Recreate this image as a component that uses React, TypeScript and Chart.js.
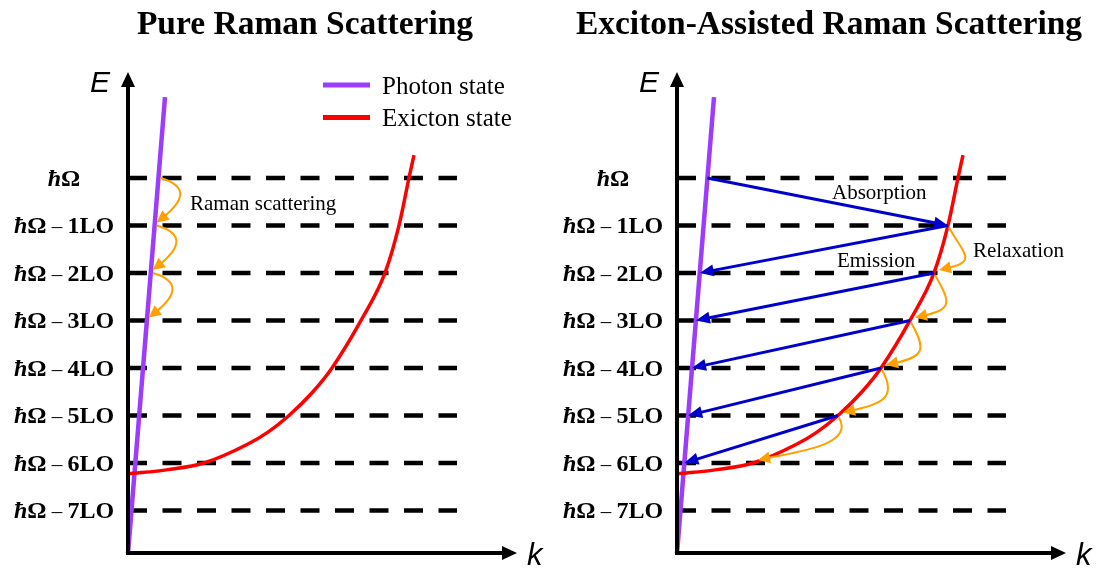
import React, { useEffect, useRef } from 'react';
import { Chart, registerables } from 'chart.js';

Chart.register(...registerables);

// ---------- data ----------
const levelValues = [7, 6, 5, 4, 3, 2, 1, 0];
const levelLabels = ['ħΩ', 'ħΩ – 1LO', 'ħΩ – 2LO', 'ħΩ – 3LO', 'ħΩ – 4LO', 'ħΩ – 5LO', 'ħΩ – 6LO', 'ħΩ – 7LO'];
const levelDashK = [0, 329];
const kRange = [0, 389];
const eRange = [-0.895, 9.23];
const photonK = [0, 37];
const photonE = [-0.9, 8.7];
const excitonK = [0, 40, 76, 120, 140, 161, 185, 204, 233, 257, 271, 281, 286];
const excitonE = [0.77, 0.86, 1, 1.4, 1.65, 2, 2.5, 3, 4, 5, 6, 7, 7.48];
const seriesNames = ['Photon state', 'Exicton state'];
const panelTitles = ['Pure Raman Scattering', 'Exciton-Assisted Raman Scattering'];
const ramanFrom = [7, 6, 5];
const absorption = [7, 6];
const emissionFrom = [6, 5, 4, 3, 2];
const relaxationFrom = [6, 5, 4, 3, 2];

const PURPLE = '#9B3CFF';
const RED = '#FF0000';
const BLUE = '#0000CC';
const ORANGE = '#FFA000';
const SERIF = '"Liberation Serif", "Times New Roman", serif';
const SANS = '"Liberation Sans", Arial, sans-serif';

const W = 551;
const H = 574;

function interp(xs: number[], ys: number[], yv: number): number {
  for (let i = 0; i < ys.length - 1; i++) {
    const a = ys[i], b = ys[i + 1];
    if ((yv >= a && yv <= b) || (yv <= a && yv >= b)) {
      const t = b === a ? 0 : (yv - a) / (b - a);
      return xs[i] + t * (xs[i + 1] - xs[i]);
    }
  }
  return xs[xs.length - 1];
}
const photonKAt = (e: number) => interp(photonK, photonE, e);
const excitonKAt = (e: number) => interp(excitonK, excitonE, e);

function arrowHead(ctx: CanvasRenderingContext2D, tx: number, ty: number, fx: number, fy: number, len: number, hw: number, color: string) {
  const dx = tx - fx, dy = ty - fy;
  const d = Math.hypot(dx, dy) || 1;
  const ux = dx / d, uy = dy / d;
  const bx = tx - ux * len, by = ty - uy * len;
  ctx.fillStyle = color;
  ctx.beginPath();
  ctx.moveTo(tx, ty);
  ctx.lineTo(bx - uy * hw, by + ux * hw);
  ctx.lineTo(bx + uy * hw, by - ux * hw);
  ctx.closePath();
  ctx.fill();
}

function straightArrow(ctx: CanvasRenderingContext2D, x0: number, y0: number, x1: number, y1: number, color: string, lw: number, len: number, hw: number) {
  const d = Math.hypot(x1 - x0, y1 - y0);
  const ux = (x1 - x0) / d, uy = (y1 - y0) / d;
  ctx.strokeStyle = color;
  ctx.lineWidth = lw;
  ctx.lineCap = 'butt';
  ctx.beginPath();
  ctx.moveTo(x0, y0);
  ctx.lineTo(x1 - ux * len * 0.7, y1 - uy * len * 0.7);
  ctx.stroke();
  arrowHead(ctx, x1, y1, x0, y0, len, hw, color);
}

function curvedArrow(ctx: CanvasRenderingContext2D, p0: number[], c1: number[], c2: number[], p3: number[], color: string) {
  const d = Math.hypot(p3[0] - c2[0], p3[1] - c2[1]);
  const ux = (p3[0] - c2[0]) / d, uy = (p3[1] - c2[1]) / d;
  const len = 12;
  ctx.strokeStyle = color;
  ctx.lineWidth = 2;
  ctx.beginPath();
  ctx.moveTo(p0[0], p0[1]);
  ctx.bezierCurveTo(c1[0], c1[1], c2[0], c2[1], p3[0] - ux * len * 0.6, p3[1] - uy * len * 0.6);
  ctx.stroke();
  arrowHead(ctx, p3[0], p3[1], c2[0], c2[1], len, 6, color);
}

function drawLevelLabel(ctx: CanvasRenderingContext2D, text: string, cx: number, baseY: number) {
  const parts: { t: string; f: string }[] = [];
  parts.push({ t: 'ħ', f: `italic bold 24px ${SERIF}` });
  parts.push({ t: 'Ω', f: `bold 24px ${SERIF}` });
  const rest = text.slice(2);
  if (rest.length) {
    const m = rest.match(/^(\s*–\s*)(.*)$/);
    if (m) {
      parts.push({ t: ' – ', f: `21px ${SERIF}` });
      parts.push({ t: m[2], f: `bold 24px ${SERIF}` });
    }
  }
  let total = 0;
  const widths = parts.map((p) => {
    ctx.font = p.f;
    const w = ctx.measureText(p.t).width;
    total += w;
    return w;
  });
  let x = cx - total / 2;
  ctx.fillStyle = '#000';
  ctx.textAlign = 'left';
  ctx.textBaseline = 'alphabetic';
  parts.forEach((p, i) => {
    ctx.font = p.f;
    ctx.fillText(p.t, x, baseY);
    x += widths[i];
  });
}

const diagramPlugin = {
  id: 'diagram',
  afterDatasetsDraw(chart: any, _args: any, opts: any) {
    const { ctx, chartArea: ca, scales } = chart;
    const px = (k: number) => scales.x.getPixelForValue(k);
    const py = (e: number) => scales.y.getPixelForValue(e);
    const panel = opts.panel as number;
    ctx.save();

    // axes
    ctx.strokeStyle = '#000';
    ctx.lineWidth = 4;
    ctx.lineJoin = 'miter';
    ctx.lineCap = 'butt';
    ctx.beginPath();
    ctx.moveTo(ca.left, ca.top + 12);
    ctx.lineTo(ca.left, ca.bottom);
    ctx.lineTo(ca.right - 12, ca.bottom);
    ctx.stroke();
    arrowHead(ctx, ca.left, ca.top, ca.left, ca.top + 20, 15, 7, '#000');
    arrowHead(ctx, ca.right, ca.bottom, ca.right - 20, ca.bottom, 15, 7, '#000');

    // axis labels
    ctx.fillStyle = '#000';
    ctx.textAlign = 'left';
    ctx.textBaseline = 'alphabetic';
    ctx.font = `italic 30px ${SANS}`;
    ctx.fillText('E', ca.left - 38, ca.top + 20);
    ctx.font = `italic 31px ${SANS}`;
    ctx.fillText('k', ca.right + 10, ca.bottom + 12);

    // level labels
    levelValues.forEach((v, i) => drawLevelLabel(ctx, levelLabels[i], ca.left - 64, py(v) + 8));

    // title
    ctx.font = `bold 33.5px ${SERIF}`;
    ctx.textAlign = 'center';
    ctx.fillStyle = '#000';
    ctx.fillText(panelTitles[panel], panel === 0 ? 305 : 280, 34);

    if (panel === 0) {
      // legend
      const ds = chart.data.datasets.filter((d: any) => seriesNames.includes(d.label));
      ds.forEach((d: any, i: number) => {
        const yy = 85 + i * 32.5;
        ctx.strokeStyle = d.borderColor;
        ctx.lineWidth = 5;
        ctx.beginPath();
        ctx.moveTo(323, yy);
        ctx.lineTo(370, yy);
        ctx.stroke();
        ctx.fillStyle = '#000';
        ctx.font = `25px ${SERIF}`;
        ctx.textAlign = 'left';
        ctx.fillText(d.label, 382, yy + 8.5);
      });
      // Raman scattering arrows
      ramanFrom.forEach((L) => {
        const p0 = [px(photonKAt(L)) + 2, py(L)];
        const p3 = [px(photonKAt(L - 1)) + 2, py(L - 1) - 3];
        curvedArrow(ctx, p0, [p0[0] + 28, p0[1] + 8], [p3[0] + 28, p3[1] - 22], p3, ORANGE);
      });
      ctx.fillStyle = '#000';
      ctx.font = `21px ${SERIF}`;
      ctx.textAlign = 'left';
      ctx.fillText('Raman scattering', 190, 210);
    } else {
      straightArrow(ctx, px(photonKAt(absorption[0])), py(absorption[0]), px(excitonKAt(absorption[1])), py(absorption[1]), BLUE, 3, 14, 6);
      emissionFrom.forEach((L) => {
        straightArrow(ctx, px(excitonKAt(L)), py(L), px(photonKAt(L - 1)), py(L - 1), BLUE, 3, 14, 6);
      });
      relaxationFrom.forEach((L) => {
        const p0 = [px(excitonKAt(L)) + 1, py(L) + 2];
        const p3 = [px(excitonKAt(L - 1)) + 5, py(L - 1) - 3];
        curvedArrow(ctx, p0, [p0[0] + 16, p0[1] + 28], [p3[0] + 38, p3[1] - 8], p3, ORANGE);
      });
      ctx.fillStyle = '#000';
      ctx.font = `21px ${SERIF}`;
      ctx.textAlign = 'left';
      ctx.fillText('Absorption', 283, 199);
      ctx.fillText('Emission', 288, 267);
      ctx.fillText('Relaxation', 424, 257);
    }
    ctx.restore();
  },
};

function Panel({ panel, left }: { panel: number; left: number }) {
  const ref = useRef<HTMLCanvasElement | null>(null);
  useEffect(() => {
    if (!ref.current) return;
    const datasets: any[] = [];
    levelValues.forEach((v) => {
      datasets.push({
        label: 'level',
        data: levelDashK.map((k) => ({ x: k, y: v })),
        borderColor: '#000',
        borderWidth: 4.5,
        borderDash: [19, 15.5],
        borderCapStyle: 'butt',
        pointRadius: 0,
        showLine: true,
        order: 3,
        clip: 10,
      });
    });
    datasets.push({
      label: seriesNames[0],
      data: photonK.map((k, i) => ({ x: k, y: photonE[i] })),
      borderColor: PURPLE,
      borderWidth: 4.5,
      pointRadius: 0,
      showLine: true,
      order: 2,
      clip: 10,
    });
    datasets.push({
      label: seriesNames[1],
      data: excitonK.map((k, i) => ({ x: k, y: excitonE[i] })),
      borderColor: RED,
      borderWidth: 3.5,
      pointRadius: 0,
      showLine: true,
      cubicInterpolationMode: 'monotone',
      order: 1,
      clip: 10,
    });
    const chart = new Chart(ref.current, {
      type: 'scatter',
      data: { datasets },
      options: {
        animation: false,
        responsive: false,
        devicePixelRatio: 1,
        layout: { padding: { left: 128, right: 34, top: 72, bottom: 21 } },
        scales: {
          x: { type: 'linear', min: kRange[0], max: kRange[1], display: false },
          y: { type: 'linear', min: eRange[0], max: eRange[1], display: false },
        },
        plugins: {
          legend: { display: false },
          tooltip: { enabled: false },
          title: { display: false },
          diagram: { panel },
        } as any,
      },
      plugins: [diagramPlugin],
    });
    return () => chart.destroy();
  }, [panel]);
  return (
    <canvas
      ref={ref}
      width={W}
      height={H}
      style={{ position: 'absolute', left, top: 0, width: W, height: H }}
    />
  );
}

export default function App() {
  return (
    <div style={{ position: 'fixed', left: 0, top: 0, width: 1103, height: 574, background: '#fff', overflow: 'hidden' }}>
      <Panel panel={0} left={0} />
      <Panel panel={1} left={549} />
    </div>
  );
}
